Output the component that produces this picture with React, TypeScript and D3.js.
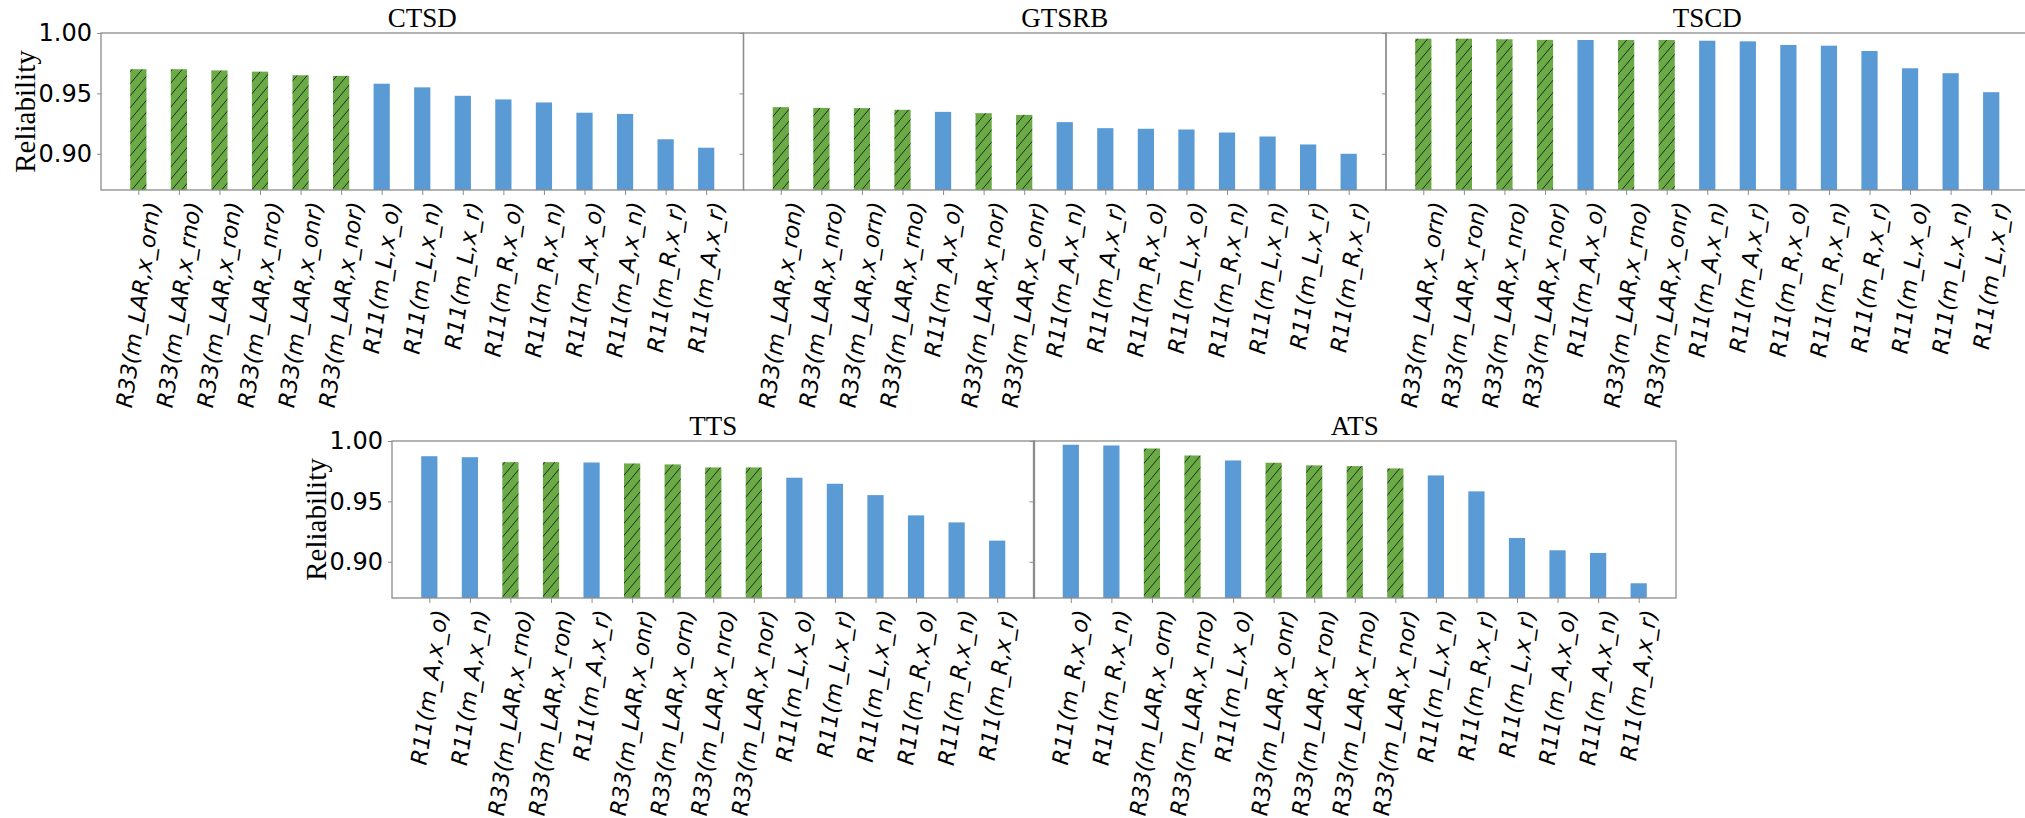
import React, { useEffect, useRef } from "react";
import * as d3 from "d3";

// Panel titles
const titles = ["CTSD", "GTSRB", "TSCD", "TTS", "ATS"];

// Category labels per dataset (bar order as drawn)
const ctsdLabels = [
  "R33(m_LAR,x_orn)", "R33(m_LAR,x_rno)", "R33(m_LAR,x_ron)", "R33(m_LAR,x_nro)",
  "R33(m_LAR,x_onr)", "R33(m_LAR,x_nor)", "R11(m_L,x_o)", "R11(m_L,x_n)",
  "R11(m_L,x_r)", "R11(m_R,x_o)", "R11(m_R,x_n)", "R11(m_A,x_o)",
  "R11(m_A,x_n)", "R11(m_R,x_r)", "R11(m_A,x_r)",
];
const gtsrbLabels = [
  "R33(m_LAR,x_ron)", "R33(m_LAR,x_nro)", "R33(m_LAR,x_orn)", "R33(m_LAR,x_rno)",
  "R11(m_A,x_o)", "R33(m_LAR,x_nor)", "R33(m_LAR,x_onr)", "R11(m_A,x_n)",
  "R11(m_A,x_r)", "R11(m_R,x_o)", "R11(m_L,x_o)", "R11(m_R,x_n)",
  "R11(m_L,x_n)", "R11(m_L,x_r)", "R11(m_R,x_r)",
];
const tscdLabels = [
  "R33(m_LAR,x_orn)", "R33(m_LAR,x_ron)", "R33(m_LAR,x_nro)", "R33(m_LAR,x_nor)",
  "R11(m_A,x_o)", "R33(m_LAR,x_rno)", "R33(m_LAR,x_onr)", "R11(m_A,x_n)",
  "R11(m_A,x_r)", "R11(m_R,x_o)", "R11(m_R,x_n)", "R11(m_R,x_r)",
  "R11(m_L,x_o)", "R11(m_L,x_n)", "R11(m_L,x_r)",
];
const ttsLabels = [
  "R11(m_A,x_o)", "R11(m_A,x_n)", "R33(m_LAR,x_rno)", "R33(m_LAR,x_ron)",
  "R11(m_A,x_r)", "R33(m_LAR,x_onr)", "R33(m_LAR,x_orn)", "R33(m_LAR,x_nro)",
  "R33(m_LAR,x_nor)", "R11(m_L,x_o)", "R11(m_L,x_r)", "R11(m_L,x_n)",
  "R11(m_R,x_o)", "R11(m_R,x_n)", "R11(m_R,x_r)",
];
const atsLabels = [
  "R11(m_R,x_o)", "R11(m_R,x_n)", "R33(m_LAR,x_orn)", "R33(m_LAR,x_nro)",
  "R11(m_L,x_o)", "R33(m_LAR,x_onr)", "R33(m_LAR,x_ron)", "R33(m_LAR,x_rno)",
  "R33(m_LAR,x_nor)", "R11(m_L,x_n)", "R11(m_R,x_r)", "R11(m_L,x_r)",
  "R11(m_A,x_o)", "R11(m_A,x_n)", "R11(m_A,x_r)",
];

// Reliability values
const ctsdValues = [0.970, 0.970, 0.969, 0.968, 0.965, 0.9645, 0.958, 0.955, 0.948, 0.945, 0.9425, 0.934, 0.933, 0.912, 0.905];
const gtsrbValues = [0.9386, 0.938, 0.9378, 0.9364, 0.9347, 0.9336, 0.9322, 0.9262, 0.9212, 0.9207, 0.9201, 0.9176, 0.9143, 0.9077, 0.900];
const tscdValues = [0.9953, 0.9953, 0.9948, 0.9943, 0.9942, 0.9942, 0.9942, 0.9936, 0.9931, 0.9901, 0.9895, 0.9851, 0.9708, 0.9667, 0.951];
const ttsValues = [0.9874, 0.9866, 0.9825, 0.9825, 0.9822, 0.9814, 0.9806, 0.9781, 0.9781, 0.9696, 0.9646, 0.9552, 0.9384, 0.9326, 0.9175];
const atsValues = [0.9969, 0.9963, 0.9938, 0.988, 0.9839, 0.982, 0.9798, 0.9792, 0.9773, 0.9715, 0.9583, 0.9197, 0.9095, 0.9073, 0.8822];

const yTicks = [0.9, 0.95, 1.0];
const yDomain = [0.87, 1.0];

const blue = "#5b9bd5";
const green = "#6aab45";

export default function App() {
  const ref = useRef<SVGSVGElement>(null);

  useEffect(() => {
    const svg = d3.select(ref.current);
    svg.selectAll("*").remove();

    const panelW = 642.5;
    const panelH = 157;
    // [left, top, showYLabels]
    const layout: [number, number, boolean][] = [
      [101, 33, true],
      [743.5, 33, false],
      [1386, 33, false],
      [392, 441, true],
      [1033.5, 441, false],
    ];
    const allLabels = [ctsdLabels, gtsrbLabels, tscdLabels, ttsLabels, atsLabels];
    const allValues = [ctsdValues, gtsrbValues, tscdValues, ttsValues, atsValues];

    // hatch pattern for the R33 bars
    const pat = svg
      .append("defs")
      .append("pattern")
      .attr("id", "hatch")
      .attr("patternUnits", "userSpaceOnUse")
      .attr("width", 10)
      .attr("height", 12);
    pat.append("rect").attr("width", 10).attr("height", 12).attr("fill", green);
    pat
      .append("path")
      .attr("d", "M0,12 L10,0 M-2,2 L2,-2 M8,14 L12,10")
      .attr("stroke", "#1a1a1a")
      .attr("stroke-width", 0.9);

    const spine = "#8c8c8c";

    titles.forEach((title, p) => {
      const [left, top, showY] = layout[p];
      const labels = allLabels[p];
      const values = allValues[p];
      const data = labels.map((l, i) => ({ i, label: l, value: values[i] }));

      const x = d3
        .scalePoint<number>()
        .domain(d3.range(labels.length))
        .range([left, left + panelW])
        .padding(0.92);
      const bw = x.step() * 0.4;
      const y = d3.scaleLinear().domain(yDomain).range([top + panelH, top]);

      const g = svg.append("g");

      // bars
      g.selectAll("rect.bar")
        .data(data)
        .join("rect")
        .attr("class", "bar")
        .attr("x", d => (x(d.i) as number) - bw / 2)
        .attr("width", bw)
        .attr("y", d => y(d.value))
        .attr("height", d => y(yDomain[0]) - y(d.value))
        .attr("fill", d => (d.label.startsWith("R33") ? "url(#hatch)" : blue));

      // frame
      g.append("rect")
        .attr("x", left)
        .attr("y", top)
        .attr("width", panelW)
        .attr("height", panelH)
        .attr("fill", "none")
        .attr("stroke", spine)
        .attr("stroke-width", 1.3);

      // y axis ticks
      const yAxis = g
        .append("g")
        .attr("transform", `translate(${left},0)`)
        .call(
          d3
            .axisLeft(y)
            .tickValues(yTicks)
            .tickSize(4)
            .tickPadding(5)
            .tickFormat(showY ? d3.format(".2f") : () => "")
        );
      yAxis.select(".domain").remove();
      yAxis.selectAll("line").attr("stroke", spine);
      yAxis
        .selectAll("text")
        .attr("fill", "#000")
        .style("font-family", "'DejaVu Sans', sans-serif")
        .style("font-size", "24px");

      // x axis ticks
      const xAxis = g
        .append("g")
        .attr("transform", `translate(0,${top + panelH})`)
        .call(d3.axisBottom(x).tickSize(5).tickFormat(() => ""));
      xAxis.select(".domain").remove();
      xAxis.selectAll("line").attr("stroke", spine);

      // rotated category labels
      const angle = 82;
      const rad = (angle * Math.PI) / 180;
      g.selectAll("text.xl")
        .data(data)
        .join("text")
        .attr("class", "xl")
        .attr("text-anchor", "end")
        .attr("dy", "0.35em")
        .style("font-family", "'DejaVu Sans', sans-serif")
        .style("font-style", "oblique")
        .style("font-size", "22.5px")
        .text(d => d.label)
        .each(function (d) {
          const el = this as SVGTextElement;
          const len = el.getComputedTextLength();
          const tx = (x(d.i) as number) + (len * Math.cos(rad)) / 2;
          const ty = top + panelH + 12;
          d3.select(el).attr("transform", `translate(${tx},${ty}) rotate(${-angle})`);
        });

      // title
      g.append("text")
        .attr("x", left + panelW / 2)
        .attr("y", top - 6)
        .attr("text-anchor", "middle")
        .style("font-family", "'Liberation Serif', 'Times New Roman', serif")
        .style("font-size", "27px")
        .text(title);

      if (showY) {
        g.append("text")
          .attr("transform", `translate(${left - 76},${top + panelH / 2}) rotate(-90)`)
          .attr("text-anchor", "middle")
          .attr("dy", "0.35em")
          .style("font-family", "'Liberation Serif', 'Times New Roman', serif")
          .style("font-size", "29px")
          .text("Reliability");
      }
    });
  }, []);

  return (
    <svg
      ref={ref}
      width={2025}
      height={818}
      style={{ position: "absolute", left: 0, top: 0, background: "#fff" }}
    />
  );
}
